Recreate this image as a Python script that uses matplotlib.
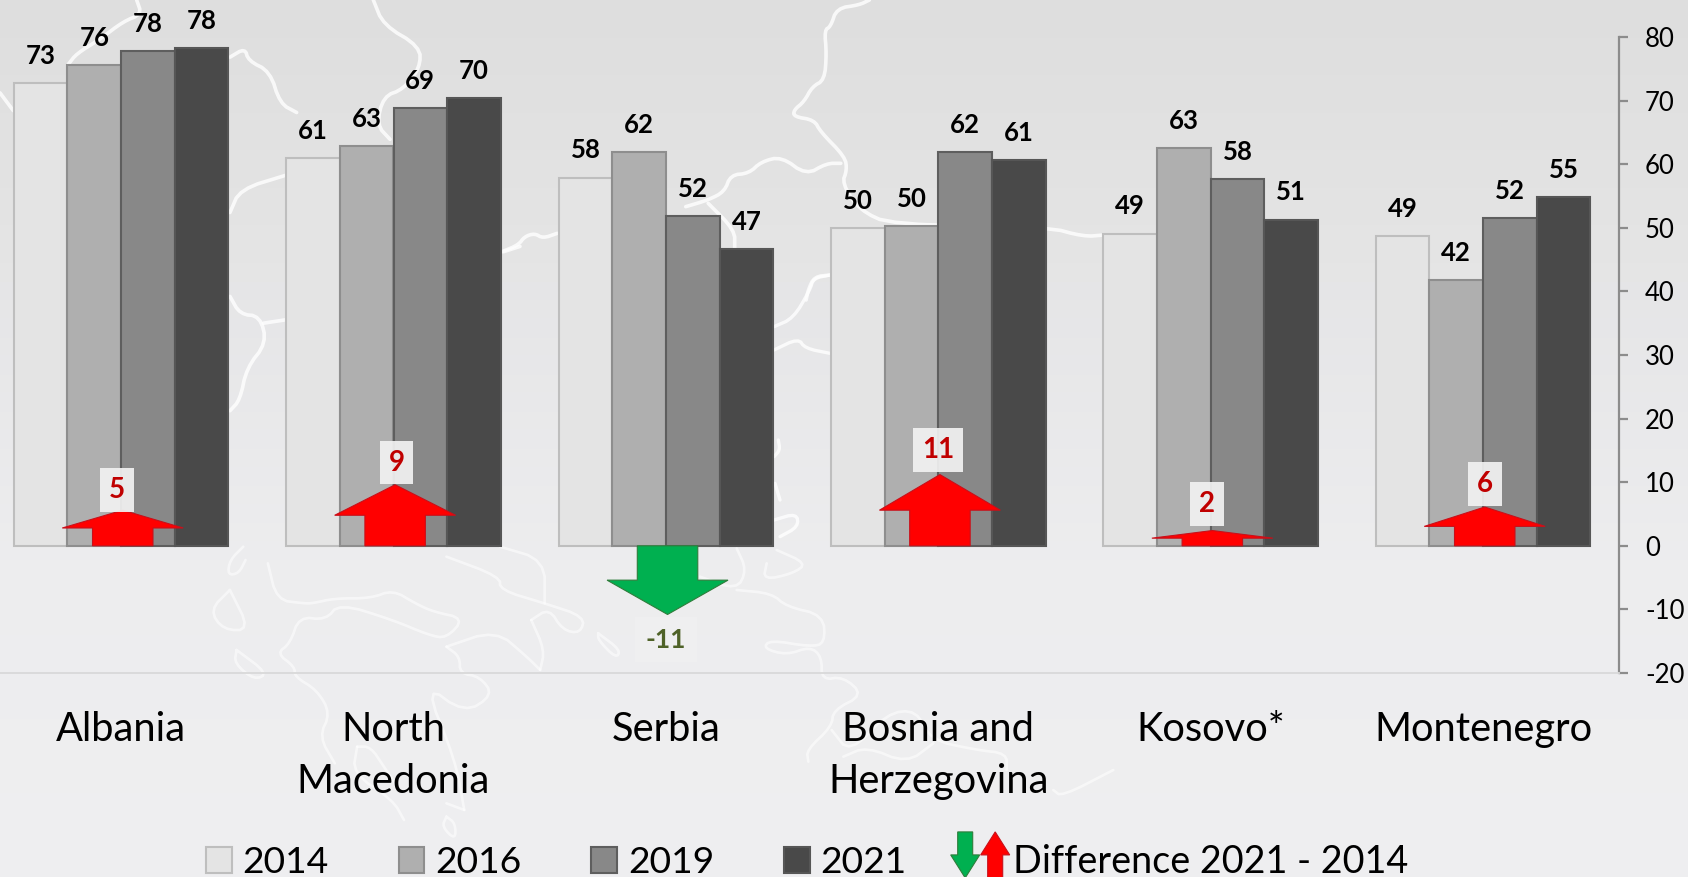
import numpy as np
import matplotlib
matplotlib.use("Agg")
import matplotlib.pyplot as plt
from matplotlib.patches import Polygon, Patch
from matplotlib.legend_handler import HandlerBase

plt.rcParams['font.family'] = ['Lato', 'DejaVu Sans']
plt.rcParams['axes.unicode_minus'] = False

# ---------- data ----------
countries = ["Albania", "North\nMacedonia", "Serbia", "Bosnia and\nHerzegovina", "Kosovo*", "Montenegro"]
years = ["2014", "2016", "2019", "2021"]
v2014 = [72.8, 60.9, 57.9, 49.9, 49.1, 48.7]
v2016 = [75.6, 62.9, 61.9, 50.3, 62.6, 41.8]
v2019 = [77.8, 68.9, 51.9, 61.9, 57.7, 51.6]
v2021 = [78.3, 70.4, 46.7, 60.7, 51.3, 54.8]
diff_heights = [5.6, 9.6, -10.8, 11.2, 2.4, 6.1]
diff_labels = [5, 9, -11, 11, 2, 6]
legend_diff = "Difference 2021 - 2014"
yticks = [-20, -10, 0, 10, 20, 30, 40, 50, 60, 70, 80]

# ---------- styles ----------
fills = ["#E4E4E4", "#AFAFAF", "#888888", "#494949"]
edges = ["#BEBEBE", "#8E8E8E", "#5E5E5E", "#565656"]
W, H = 1688, 877
fig = plt.figure(figsize=(W / 100, H / 100), dpi=100)

# ---------- backdrop: gradient and faint map outline ----------
bg = fig.add_axes([0, 0, 1, 1], zorder=0)
grad = np.interp(np.arange(H), [0, 300, 560, 877], [222, 230, 237, 239]) / 255
bg.imshow(np.stack([grad, grad, (grad + 0.006 * (grad > 0.9)).clip(0, 1)], axis=-1)[:, None, :],
          extent=[0, W, H, 0], aspect='auto', zorder=0)
bg.set_xlim(0, W); bg.set_ylim(H, 0); bg.axis('off')

def chaikin(xs, ys, n=2):
    pts = np.column_stack([xs, ys])
    for _ in range(n):
        q = 0.75 * pts[:-1] + 0.25 * pts[1:]
        r = 0.25 * pts[:-1] + 0.75 * pts[1:]
        mid = np.empty((2 * len(q), 2))
        mid[0::2] = q; mid[1::2] = r
        pts = np.vstack([pts[0], mid, pts[-1]])
    return pts[:, 0], pts[:, 1]

def ln(pts, ox, oy, sx, sy, lw=2.6, alpha=0.8):
    xs = [ox + p[0] / sx for p in pts]
    ys = [oy + p[1] / sy for p in pts]
    xs, ys = chaikin(xs, ys)
    bg.plot(xs, ys, color='white', lw=lw, alpha=alpha, solid_joinstyle='round',
            solid_capstyle='round', zorder=1)
    bg.set_xlim(0, W); bg.set_ylim(H, 0)

for p in [[(410,0),(425,40),(370,60),(300,110),(230,150),(205,180)],
          [(0,260),(40,310)],
          [(690,160),(735,135),(745,170),(810,200),(840,290),(890,315)],
          [(690,595),(720,530),(860,490)],
          [(690,830),(720,880),(780,885),(800,960),(740,1030),(720,1120),(690,1150)],
          [(790,905),(860,895)],
          [(1120,0),(1150,70),(1260,130),(1260,190),(1210,250),(1150,270),(1130,350),(1170,390)],
          [(1510,705),(1560,690)]]:
    ln(p, 0, 0, 3, 2.8)
for p in [[(905,0),(880,15),(825,25),(810,80),(795,90),(800,160),(795,240),(765,260),(745,305),(720,330),
           (720,350),(770,360),(785,395),(845,470),(850,510),(838,550),(880,630),(960,675),(1340,680),(1430,710),(1480,705)],
          [(835,490),(800,490),(750,525),(690,470),(640,485),(610,520),(565,525),(550,575),(510,600),(455,620)],
          [(510,610),(575,690),(575,745)],
          [(5,755),(45,735),(60,710),(85,700),(105,715),(140,700)],
          [(810,825),(770,830),(755,870),(750,900)]]:
    ln(p, 500, 0, 2.45, 3)
for p in [[(222,230),(280,205),(330,120),(340,85),(390,75)],
          [(222,300),(295,265),(315,295),(390,310)],
          [(235,570),(240,600),(222,620)],
          [(225,700),(240,750)],
          [(222,810),(290,790),(295,830),(240,860)]]:
    ln(p, 700, 250, 3, 3, lw=2.4)
for p in [[(545,20),(515,60),(510,105),(535,100),(550,60)],
          [(600,70),(620,180),(680,190),(700,190),(750,175),(830,175),(880,150),(930,190),(970,215),(1040,235),(1000,295),
           (960,285),(880,240),(760,190),(730,240),(670,230),(650,310),(620,340),(660,380),(660,410),(710,450),(740,520),(715,590),(750,670)],
          [(800,620),(790,700),(880,780),(905,840)],
          [(800,620),(830,620),(860,680),(890,740)],
          [(515,150),(470,210),(500,270),(560,270),(515,150)],
          [(530,330),(525,370),(570,420),(600,400),(530,330)],
          [(1000,320),(1110,270),(1180,350),(1210,390)],
          [(1190,240),(1220,330),(1210,390)],
          [(1000,320),(1030,350),(1030,400),(1075,410),(1105,465),(1040,520),(950,430),(1020,660),(1040,810)],
          [(1000,50),(1120,110),(1120,150),(1220,190),(1310,230),(1300,280),(1260,270),(1230,205),(1190,240)],
          [(1120,20),(1220,60),(1220,190)],
          [(1000,830),(990,860),(1020,900),(1020,850),(1000,830)],
          [(1340,280),(1390,330),(1380,355),(1340,300),(1340,280)],
          [(1000,790),(1040,810)]]:
    ln(p, 0, 540, 2.24, 3, lw=1.9, alpha=0.55)
for p in [[(110,25),(140,90),(110,150),(0,110)],
          [(230,30),(320,70),(280,100),(190,120),(200,70)],
          [(110,150),(215,160),(260,200),(370,225),(375,310),(330,320),(210,300),(190,325),(260,345),(330,320),
           (365,350),(365,420),(430,410),(490,465),(400,510),(395,560),(320,630),(325,665)],
          [(395,570),(450,640),(560,520),(650,510),(690,600),(830,630),(920,640),(920,690)],
          [(1060,750),(1085,770),(1240,690)],
          [(430,650),(500,620),(620,670),(700,610)]]:
    ln(p, 700, 540, 3, 3, lw=1.9, alpha=0.55)

# ---------- main axes ----------
L, R, T, B = -15.1, 1619.3, 37, 673
ax = fig.add_axes([L / W, (H - B) / H, (R - L) / W, (B - T) / H], zorder=2)
ax.patch.set_alpha(0)
ax.set_xlim(-0.5, 5.5); ax.set_ylim(-20, 80)

series = [v2014, v2016, v2019, v2021]
bw = 0.197
x = np.arange(len(countries))
bars = []
for k, vals in enumerate(series):
    rects = ax.bar(x + (k - 1.5) * bw, vals, width=bw, color=fills[k], edgecolor=edges[k],
                   linewidth=1.5, zorder=2 + k * 0.1, label=years[k])
    bars.append(rects)
    for xi, v in zip(x + (k - 1.5) * bw, vals):
        ax.annotate(f"{v:.0f}", (xi, v), xytext=(0, 19.5), textcoords='offset points',
                    ha='center', va='center', fontsize=18.5, fontweight='bold', color='black', zorder=4)

# difference arrows: length follows the value, head is half of it
shaft_w, head_w = 0.222, 0.444
nudges_x = [-4, 3, 0, 0, -4, 2]
nudges_y = [-2, 0, -3, 2, 4, 1]
for xi, d, lab, nx, ny in zip(x, diff_heights, diff_labels, nudges_x, nudges_y):
    c = xi + 0.006
    s = d * 0.5
    poly = [(c - shaft_w / 2, 0), (c - shaft_w / 2, s), (c - head_w / 2, s), (c, d),
            (c + head_w / 2, s), (c + shaft_w / 2, s), (c + shaft_w / 2, 0)]
    up = d > 0
    ax.add_patch(Polygon(poly, closed=True, facecolor='#FF0000' if up else '#00B050',
                         edgecolor='#C8101A' if up else '#2F7D3B', linewidth=0.8, zorder=5))
    ax.annotate(f"{lab}", (xi, d), xytext=(nx * 0.72, (16 if up else -16) + ny * 0.72), textcoords='offset points',
                ha='center', va='center', fontsize=20 if up else 19, fontweight='bold',
                color='#C00000' if up else '#4F6228', zorder=6,
                bbox=dict(boxstyle='square,pad=0.32' if up else 'square,pad=0.4',
                          fc='#F2F2F2', ec='none', alpha=0.92 if up else 0.6))

# axes furniture
for s in ['top', 'left']:
    ax.spines[s].set_visible(False)
ax.spines['bottom'].set_color('#D9D9D9'); ax.spines['bottom'].set_linewidth(1.3)
ax.spines['right'].set_color('#8C8C8C'); ax.spines['right'].set_linewidth(1.6)
ax.yaxis.tick_right()
ax.set_yticks(yticks)
ax.tick_params(axis='y', direction='out', length=6.5, width=1.6, color='#8C8C8C', pad=12,
               labelsize=18.5, labelcolor='black')
ax.set_xticks(x)
ax.set_xticklabels(countries, fontsize=28.7, color='black', linespacing=1.5)
ax.tick_params(axis='x', length=0, pad=27.5)
for t in ax.get_xticklabels():
    t.set_multialignment('center')

# ---------- legend ----------
class DiffHandler(HandlerBase):
    def create_artists(self, legend, orig, xdescent, ydescent, width, height, fontsize, trans):
        px = 0.72
        def arrow(x0, y_top, h, up, fc, ec):
            w, sw = 29 * px, 15 * px
            hh = 23 * px
            y_bot = y_top - h
            xm = x0 + w / 2
            if up:
                pts = [(xm, y_top), (x0 + w, y_top - hh), (xm + sw / 2, y_top - hh), (xm + sw / 2, y_bot),
                       (xm - sw / 2, y_bot), (xm - sw / 2, y_top - hh), (x0, y_top - hh)]
            else:
                pts = [(xm, y_bot), (x0 + w, y_bot + hh), (xm + sw / 2, y_bot + hh), (xm + sw / 2, y_top),
                       (xm - sw / 2, y_top), (xm - sw / 2, y_bot + hh), (x0, y_bot + hh)]
            return Polygon(pts, closed=True, facecolor=fc, edgecolor=ec, linewidth=0.8, transform=trans)
        top = height + 11
        return [arrow(-26 * px, top, 46 * px, False, '#00B050', '#2F7D3B'),
                arrow(4 * px, top, 46 * px, True, '#FF0000', '#C8101A')]

handles = [Patch(facecolor=fills[k], edgecolor=edges[k], linewidth=1.5) for k in range(4)]
diff_handle = Patch(facecolor='none', edgecolor='none')
leg = fig.legend(handles + [diff_handle], years + [legend_diff], ncols=5, frameon=False, fontsize=26.8,
                 loc='lower left', bbox_to_anchor=(206 / W, -3 / H), borderaxespad=0, borderpad=0,
                 handlelength=0.69, handleheight=0.69, handletextpad=0.29, columnspacing=1.88,
                 handler_map={diff_handle: DiffHandler()})
leg.set_zorder(5)
leg.get_texts()[-1].set_fontsize(27.2)

fig.savefig("out.png", dpi=100)
